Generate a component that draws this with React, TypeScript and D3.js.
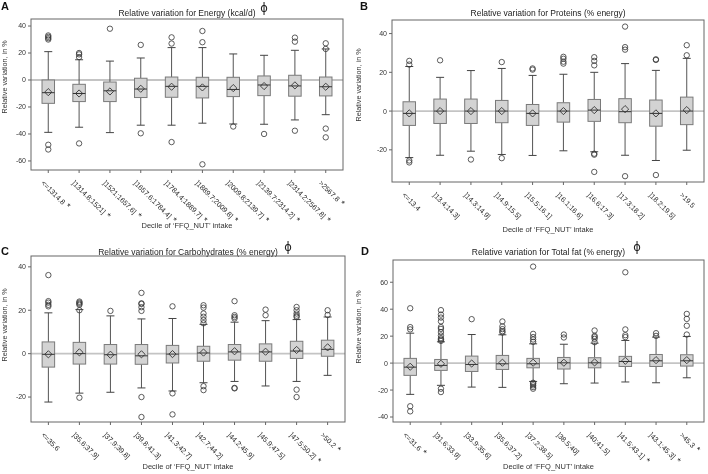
import * as d3 from "d3";

// decile labels
const energyLabels = ["<=1314.8 *", "]1314.8;1521] *", "]1521;1657.6] *", "]1657.6;1784.4] *", "]1784.4;1889.7] *", "]1889.7;2009.8] *", "]2009.8;2139.7] *", "]2139.7;2314.2] *", "]2314.2;2567.8] *", ">2567.8 *"];
const proteinLabels = ["<=13.4", "]13.4;14.3]", "]14.3;14.9]", "]14.9;15.5]", "]15.5;16.1]", "]16.1;16.6]", "]16.6;17.3]", "]17.3;18.2]", "]18.2;19.5]", ">19.5"];
const carbLabels = ["<=35.6", "]35.6;37.9]", "]37.9;39.8]", "]39.8;41.3]", "]41.3;42.7]", "]42.7;44.2]", "]44.2;45.9]", "]45.9;47.5]", "]47.5;50.2] *", ">50.2 *"];
const fatLabels = ["<=31.6 *", "]31.6;33.9]", "]33.9;35.6]", "]35.6;37.2]", "]37.2;38.5]", "]38.5;40]", "]40;41.5]", "]41.5;43.1] *", "]43.1;45.3] *", ">45.3 *"];

// box stats: [whiskerLow, q1, median, q3, whiskerHigh, mean]
const energyStats = [
  [-38.8, -17.3, -9.4, 0, 21, -9],
  [-35, -16, -10, -3.2, 15, -10],
  [-39, -16, -8, -1.5, 14, -8.5],
  [-33.5, -13, -6.7, 1.3, 16.3, -6.5],
  [-33.5, -12.8, -4.7, 2.2, 24, -5],
  [-32, -13.3, -4.7, 2, 24, -5.5],
  [-32.6, -12.3, -7, 2, 19.3, -6],
  [-32.8, -11.6, -3.7, 3, 18.3, -4.5],
  [-29.6, -12, -4.4, 3.5, 22, -4],
  [-25.7, -11.8, -5, 2.2, 23, -5],
];
const energyOutliers = [
  [33, 32, 31, 30, -48, -51.5],
  [20, 19, 17, -47],
  [38],
  [26, -39.5],
  [31.6, 27, -46],
  [36.3, 28, -62.5],
  [-34.5],
  [-40],
  [31.4, 28.4, -37.6],
  [27.2, 23, -36, -42.5],
];

const proteinStats = [
  [-24, -7.4, -1.2, 4.8, 23, -1.2],
  [-22.8, -6.4, 0, 6.2, 17.4, 0],
  [-20.7, -6.4, 0, 6.2, 20.9, 0],
  [-22.4, -6, 0, 5.5, 22, 0],
  [-22.9, -7.4, -1.2, 3.4, 18.4, -1.2],
  [-20.5, -5.7, 0, 4.3, 19, 0],
  [-21, -5.3, 0.5, 6, 20, 0.5],
  [-22.8, -6, -0.3, 6.4, 24.5, 1],
  [-25.5, -7.8, -1.2, 5.7, 21, -1.2],
  [-20.2, -7, 0, 7.2, 27.2, 0.5],
];
const proteinOutliers = [
  [25.9, 24, -25.5, -26.5],
  [26.2],
  [-25],
  [25.3, -24.3],
  [22, 21.4],
  [28, 27, 25.5, 24.5],
  [27.8, 25.9, 23.6, -22, -22.5, -31.4],
  [43.6, 33, 31.7, -33.6],
  [26.7, 26.4, -33],
  [34, 28.8],
];

const carbStats = [
  [-22.3, -6.2, -0.3, 5.4, 18.8, -0.3],
  [-18.2, -4.8, 0, 5.2, 20.3, 0.6],
  [-17.8, -4.8, -0.5, 4.2, 17.4, -0.5],
  [-15.8, -4.9, -1, 4.2, 16, -0.3],
  [-17.2, -4.3, -0.2, 3.8, 16.2, -0.2],
  [-13.4, -3.5, 0.3, 3.4, 13.5, 0.5],
  [-12.8, -3, 0.8, 4.2, 14.5, 1.1],
  [-14.9, -3.5, 0.8, 4.5, 15.2, 0.9],
  [-12.8, -2.2, 1.2, 5.7, 15.7, 1.7],
  [-10, -1.2, 2, 6.2, 16.9, 2.9],
];
const carbOutliers = [
  [36.2, 24.2, 23.5, 22.5, 21.8],
  [24, 23.5, 23, 22.5, 20, -20.3],
  [19.7],
  [28, 23.2, 22.9, 21.4, 19.7, -20, -29.2],
  [21.8, -18.3, -28],
  [22.3, 21.2, 18.5, 17, 15.5, 14, -15, -16.8],
  [24.2, 17.7, 16.9, 16.2, -15.8, -16],
  [20.3, 17.7],
  [21.5, 20, 18.5, 17.5, 16.9, -16.6, -20],
  [20, 17.8],
];

const fatStats = [
  [-23.2, -9.1, -3, 3.5, 22.2, -2.7],
  [-16.5, -5.4, -1.7, 2.7, 15.8, -0.5],
  [-17.8, -6.2, -1, 5.2, 21.2, -0.3],
  [-18, -4.7, -0.5, 5.7, 21, 0.3],
  [-13.6, -3.5, -0.5, 3.5, 14.3, 0.3],
  [-15.3, -4.4, 0.2, 4.2, 14, 0.3],
  [-14.8, -3.5, 0.2, 4, 14.8, 0.5],
  [-14, -2.5, 1.2, 5, 16.8, 1.7],
  [-14.6, -2.5, 1.7, 6.4, 19.3, 2.2],
  [-10.9, -2.2, 1.7, 6.2, 19.8, 2.2],
];
const fatOutliers = [
  [40.7, 26.7, 25, -32, -35.8],
  [39.3, 36, 33.8, 31, 26.7, 25.4, 23, 20.5, 18.5, 17.5, 16.5, -19, -21.5],
  [32.6],
  [30.9, 27.2, 25.2, 23.7, 22.7],
  [71.6, 21.7, 19.3, 17.5, 15.8, -14.6, -15.3, -16.5, -17.8, -19],
  [21.2, 19],
  [24.2, 20.2, 19.3, 18, 15.5],
  [67.4, 25, 20.7, 19.3],
  [22.2, 20.2],
  [36.5, 32.8, 27.7, 21.2],
];

const FONT = "'Liberation Sans', Arial, sans-serif";

const panels = [
  {
    letter: "A", title: "Relative variation for Energy (kcal/d)", phiX: 264,
    labels: energyLabels, stats: energyStats, outliers: energyOutliers,
    yTicks: [-60, -40, -20, 0, 20, 40], domain: [-66.7, 45.2],
    ox: 0, oy: 0, f: { l: 31, r: 343, t: 19, b: 170 }, titleY: 16, letterX: 1, letterY: 10, yLabelY: 77, xLabelY: 228,
  },
  {
    letter: "B", title: "Relative variation for Proteins (% energy)", phiX: 0,
    labels: proteinLabels, stats: proteinStats, outliers: proteinOutliers,
    yTicks: [-20, 0, 20, 40], domain: [-36.6, 47],
    ox: 354, oy: 0, f: { l: 38, r: 350, t: 20, b: 182 }, titleY: 16, letterX: 6, letterY: 10, yLabelY: 85, xLabelY: 232,
  },
  {
    letter: "C", title: "Relative variation for Carbohydrates (% energy)", phiX: 288,
    labels: carbLabels, stats: carbStats, outliers: carbOutliers,
    yTicks: [-20, 0, 20, 40], domain: [-31.5, 45],
    ox: 0, oy: 237, f: { l: 31, r: 345, t: 19, b: 185 }, titleY: 18, letterX: 1, letterY: 18, yLabelY: 88, xLabelY: 232,
  },
  {
    letter: "D", title: "Relative variation for Total fat (% energy)", phiX: 283,
    labels: fatLabels, stats: fatStats, outliers: fatOutliers,
    yTicks: [-40, -20, 0, 20, 40, 60], domain: [-43.7, 76.5],
    ox: 354, oy: 237, f: { l: 39, r: 350, t: 23, b: 185 }, titleY: 18, letterX: 7, letterY: 18, yLabelY: 90, xLabelY: 232,
  },
];

function Panel({ p }: { p: any }) {
  const f = p.f;
  const x = d3.scalePoint<string>().domain(p.labels).range([f.l, f.r]).padding(0.56);
  const y = d3.scaleLinear().domain(p.domain).range([f.b, f.t]);
  const bw = 12.5;
  const cap = 4;
  const dm = 3.6;

  return (
    <g transform={`translate(${p.ox},${p.oy})`} fontFamily={FONT}>
      <text x={p.letterX} y={p.letterY} fontSize={11} fontWeight="bold" fill="#111">{p.letter}</text>
      <text x={(f.l + f.r) / 2} y={p.titleY} fontSize={8.5} textAnchor="middle" fill="#222">{p.title}</text>
      {p.phiX > 0 && (
        <text x={p.phiX} y={p.titleY - 4} fontSize={11.5} textAnchor="middle" fill="#222" fontFamily="'DejaVu Sans', sans-serif">ϕ</text>
      )}

      {/* zero reference */}
      <line x1={f.l} x2={f.r} y1={y(0)} y2={y(0)} stroke="#c4c4c4" strokeWidth={1.8} />

      {p.stats.map((s: number[], i: number) => {
        const cx = x(p.labels[i])!;
        const [lo, q1, med, q3, hi, mean] = s;
        return (
          <g key={i}>
            <line x1={cx} x2={cx} y1={y(q3)} y2={y(hi)} stroke="#555" strokeWidth={1} />
            <line x1={cx} x2={cx} y1={y(q1)} y2={y(lo)} stroke="#555" strokeWidth={1} />
            <line x1={cx - cap} x2={cx + cap} y1={y(hi)} y2={y(hi)} stroke="#444" strokeWidth={1} />
            <line x1={cx - cap} x2={cx + cap} y1={y(lo)} y2={y(lo)} stroke="#444" strokeWidth={1} />
            <rect x={cx - bw / 2} y={y(q3)} width={bw} height={y(q1) - y(q3)} fill="#d3d3d3" stroke="#7a7a7a" strokeWidth={1} />
            <line x1={cx - bw / 2} x2={cx + bw / 2} y1={y(med)} y2={y(med)} stroke="#333" strokeWidth={1} />
            <path
              d={`M${cx},${y(mean) - dm}L${cx + dm},${y(mean)}L${cx},${y(mean) + dm}L${cx - dm},${y(mean)}Z`}
              fill="none" stroke="#333" strokeWidth={0.9}
            />
            {p.outliers[i].map((v: number, j: number) => (
              <circle key={j} cx={cx} cy={y(v)} r={2.7} fill="none" stroke="#333" strokeWidth={0.8} />
            ))}
          </g>
        );
      })}

      {/* frame */}
      <rect x={f.l} y={f.t} width={f.r - f.l} height={f.b - f.t} fill="none" stroke="#666" strokeWidth={1} />

      {/* y axis */}
      {p.yTicks.map((t: number) => (
        <g key={t}>
          <line x1={f.l - 3} x2={f.l} y1={y(t)} y2={y(t)} stroke="#666" />
          <text x={f.l - 5} y={y(t)} dy="0.35em" fontSize={7} textAnchor="end" fill="#333">{t}</text>
        </g>
      ))}
      <text transform={`translate(7,${p.yLabelY}) rotate(-90)`} fontSize={7.2} textAnchor="middle" fill="#333">
        Relative variation, in %
      </text>

      {/* x axis */}
      {p.labels.map((l: string) => {
        const cx = x(l)!;
        const star = l.endsWith(" *");
        const txt = star ? l.slice(0, -2) : l;
        return (
          <g key={l}>
            <line x1={cx} x2={cx} y1={f.b} y2={f.b + 3} stroke="#666" />
            <text transform={`translate(${cx - 7.5},${f.b + 13.5}) rotate(45)`} fontSize={7.2} fill="#2a2a2a">
              {txt}
              {star && <tspan dx={3} fontSize={9} fill="#111">*</tspan>}
            </text>
          </g>
        );
      })}
      <text x={(f.l + f.r) / 2} y={p.xLabelY} fontSize={7.5} textAnchor="middle" fill="#333">
        Decile of ‘FFQ_NUT’ intake
      </text>
    </g>
  );
}

export default function App() {
  return (
    <svg width={708} height={474} style={{ position: "absolute", left: 0, top: 0, background: "#fff", filter: "grayscale(1)" }}>
      <rect width={708} height={474} fill="#fff" />
      {panels.map((p) => (
        <Panel key={p.letter} p={p} />
      ))}
    </svg>
  );
}
